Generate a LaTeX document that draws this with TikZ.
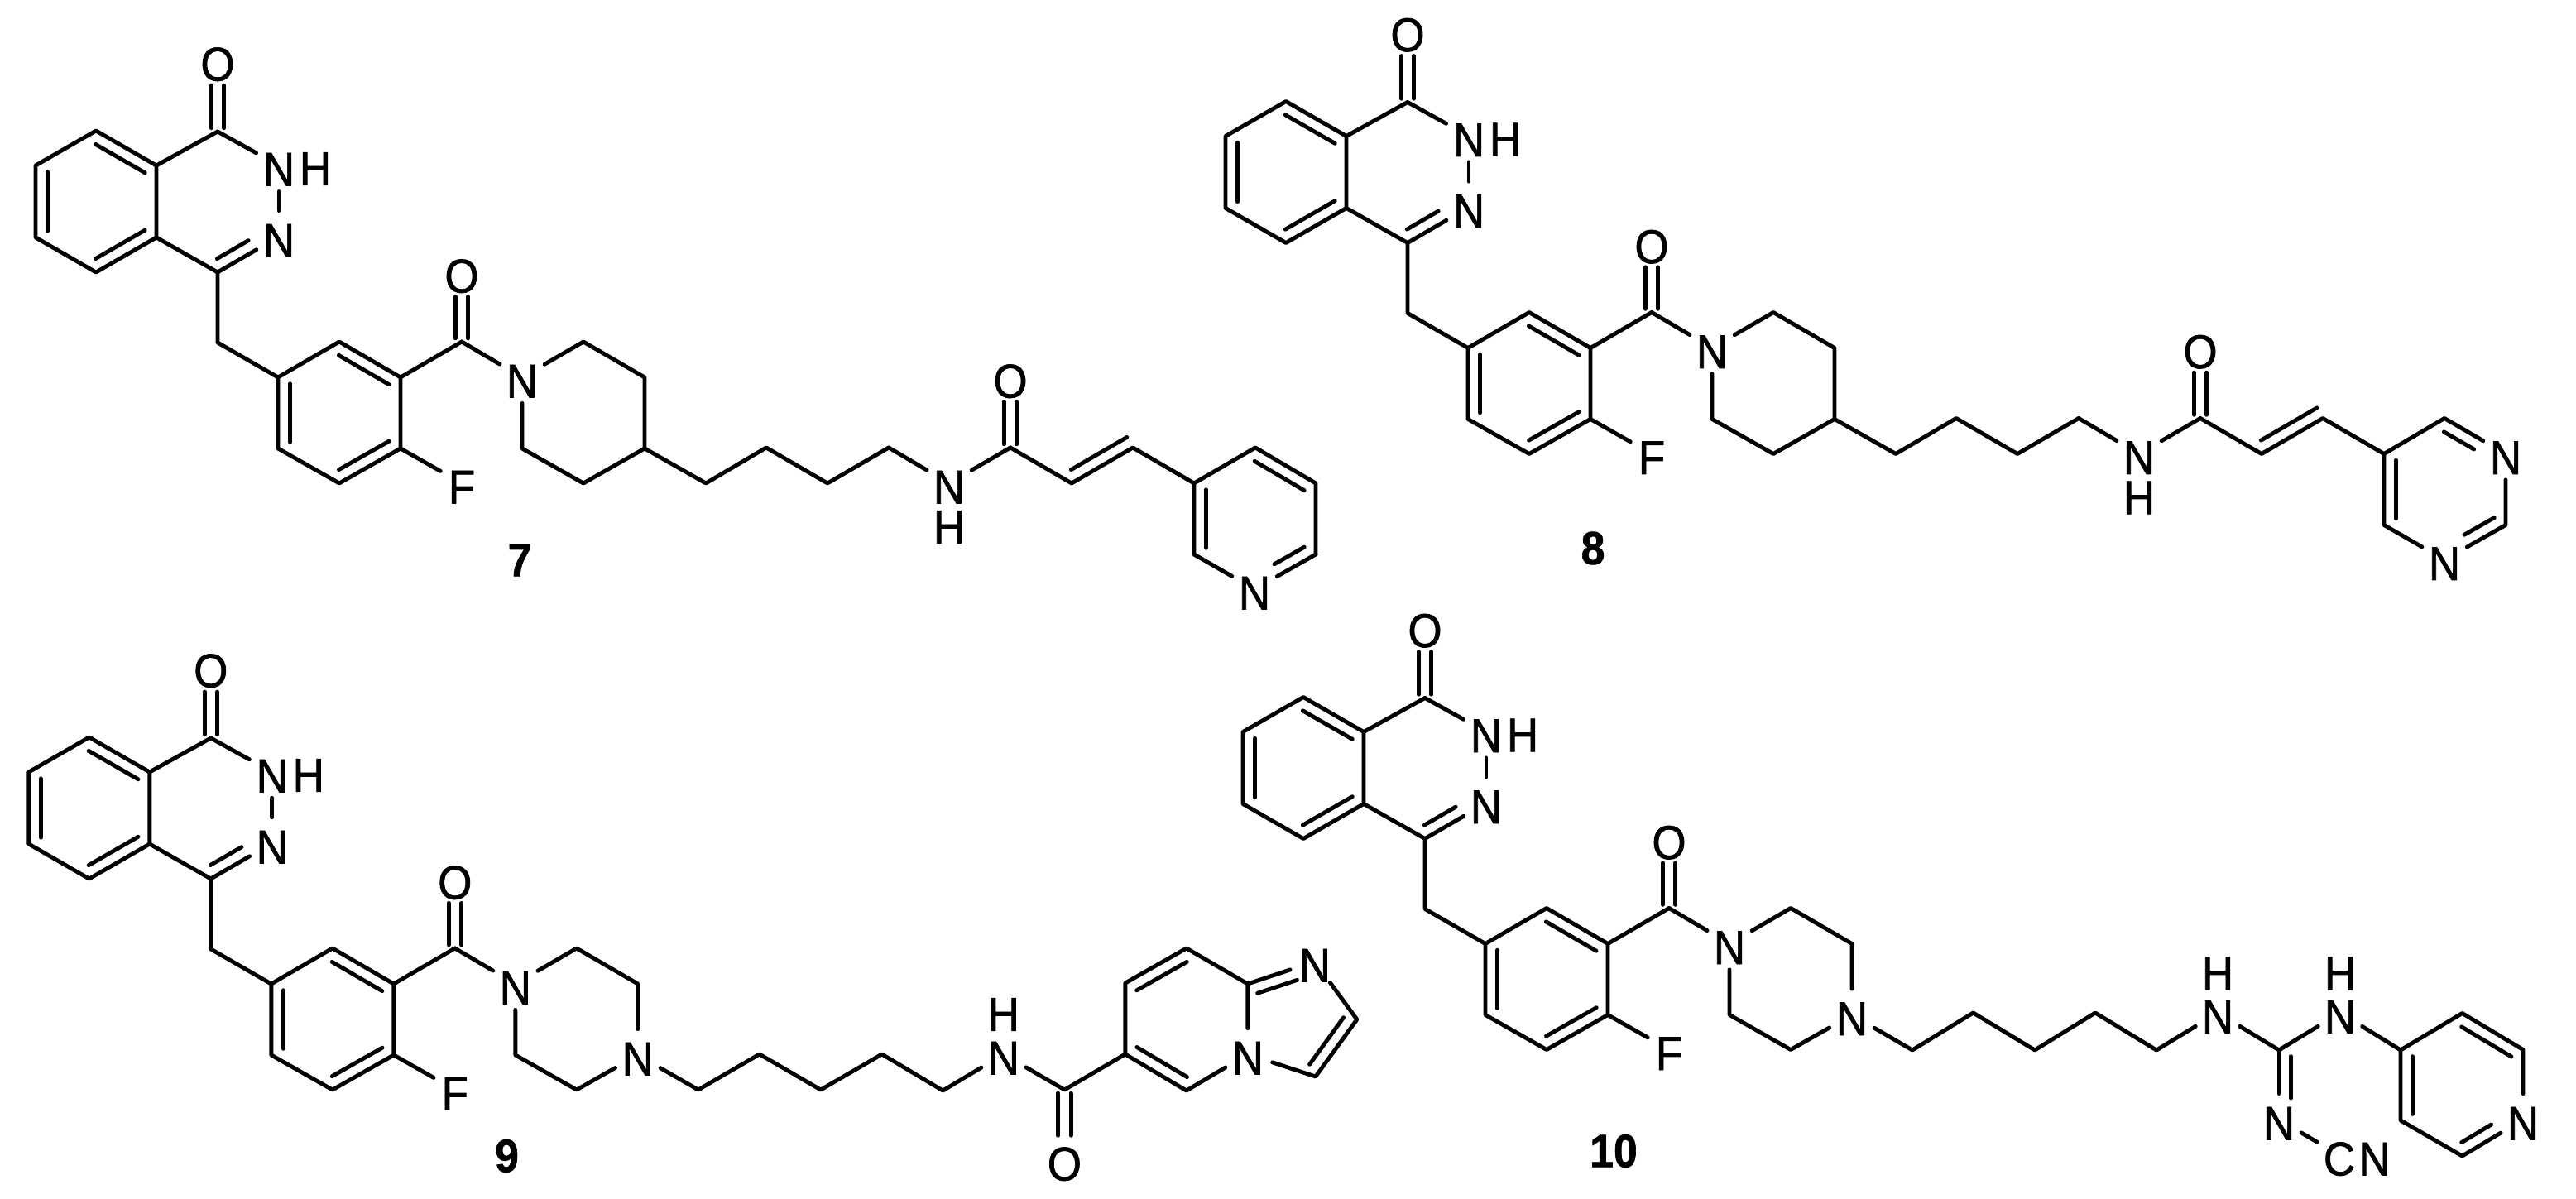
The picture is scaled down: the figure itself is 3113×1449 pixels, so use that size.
\documentclass[tikz,border=0pt]{standalone}
\usepackage{fontspec}
\setmainfont[FakeStretch=0.92,FakeBold=1.2]{Liberation Sans}
\usetikzlibrary{calc}

\tikzset{
  bond/.style = {line width=.098cm, line cap=round, line join=round},
  atomlabel/.style = {circle, inner sep=0pt, text height=.98cm, text depth=0pt, font=\fontsize{32.7}{36}\selectfont},
  hlabel/.style = {inner sep=0pt, font=\fontsize{32.7}{36}\selectfont},
  cpdlabel/.style = {inner sep=0pt, font=\fontsize{32}{36}\selectfont\bfseries}
}

\newcommand{\inbond}[3][.09]{\draw[bond] ($(#2)!.09!(#3)!.29cm!90:(#3)$) -- ($(#3)!#1!(#2)!.29cm!-90:(#2)$);}
\newcommand{\inbondr}[3][.09]{\draw[bond] ($(#2)!.09!(#3)!.29cm!-90:(#3)$) -- ($(#3)!#1!(#2)!.29cm!90:(#2)$);}
\newcommand{\cobond}[2]{%
\draw[bond] ($(#1)!.05!(#2)!.154cm!90:(#2)$) -- ($(#2)!.35!(#1)!.154cm!-90:(#1)$);
\draw[bond] ($(#1)!.05!(#2)!.154cm!-90:(#2)$) -- ($(#2)!.35!(#1)!.154cm!90:(#1)$);}

\newcommand{\drawcore}{%
\coordinate (b1) at (116,158);
\coordinate (b2) at (43,200);
\coordinate (b3) at (43,287);
\coordinate (b4) at (116,329);
\coordinate (b5) at (189,287);
\coordinate (b6) at (189,200);
\coordinate (c1) at (263,159);
\coordinate (c4) at (263,329);
\coordinate (ch) at (263,414);
\coordinate (r1) at (336,456);
\coordinate (r2) at (410,413);
\coordinate (r3) at (484,456);
\coordinate (r4) at (484,542);
\coordinate (r5) at (410,584);
\coordinate (r6) at (336,542);
\coordinate (co) at (558,413);
\node[atomlabel] (o1) at (263,73) {O};
\node[atomlabel] (n2) at (337,200) {N};
\node[hlabel] (h2) at (381,204) {H};
\node[atomlabel] (n3) at (337,286) {N};
\node[atomlabel] (o2) at (558,329) {O};
\node[atomlabel] (nr) at (631,456) {N};
\node[atomlabel] (f1) at (558,584) {F};
\draw[bond] (c1)--(b6)--(b1)--(b2)--(b3)--(b4)--(b5)--(b6);
\draw[bond] (b5)--(c4)--(ch)--(r1)--(r2)--(r3)--(r4)--(r5)--(r6)--(r1);
\draw[bond] (r3)--(co);
\draw[bond] (c1)--(n2);
\draw[bond] (n2)--(n3);
\draw[bond] (c4)--(n3);
\draw[bond] (co)--(nr);
\draw[bond] (r4)--(f1);
\cobond{c1}{o1}
\cobond{co}{o2}
\inbond{b6}{b1}
\inbond{b2}{b3}
\inbond{b4}{b5}
\inbond[.4]{c4}{n3}
\inbond{r3}{r2}
\inbond{r1}{r6}
\inbond{r5}{r4}
}

\newcommand{\drawpiperidine}{%
\coordinate (p1) at (705,413);
\coordinate (p2) at (779,456);
\coordinate (p3) at (779,542);
\coordinate (p4) at (705,584);
\coordinate (p5) at (631,542);
\draw[bond] (nr)--(p1)--(p2)--(p3)--(p4)--(p5)--(nr);
}

\newcommand{\drawpiperazine}{%
\coordinate (p1) at (705,413);
\coordinate (p2) at (779,456);
\node[atomlabel] (p3) at (779,542) {N};
\coordinate (p4) at (705,584);
\coordinate (p5) at (631,542);
\draw[bond] (nr)--(p1)--(p2)--(p3);
\draw[bond] (p3)--(p4)--(p5)--(nr);
}

\newcommand{\drawacryl}{%
\coordinate (t1) at (853,584);
\coordinate (t2) at (926,541);
\coordinate (t3) at (1000,584);
\coordinate (t4) at (1074,541);
\node[atomlabel] (n5) at (1147,584) {N};
\node[hlabel] (h5) at (1147,637) {H};
\coordinate (t5) at (1221,541);
\node[atomlabel] (o3) at (1221,456) {O};
\coordinate (t6) at (1295,584);
\coordinate (t7) at (1369,541);
\coordinate (t8) at (1443,584);
\draw[bond] (p3)--(t1)--(t2)--(t3)--(t4);
\draw[bond] (t4)--(n5);
\draw[bond] (n5)--(t5);
\draw[bond] (t5)--(t6)--(t7)--(t8);
\cobond{t5}{o3}
\inbond[0]{t6}{t7}
}

\begin{document}
\begin{tikzpicture}[x=.02cm, y=-.02cm]
\useasboundingbox (0,0) rectangle (3113,1449);

\begin{scope}[name prefix=m7-]
\drawcore
\drawpiperidine
\drawacryl
\coordinate (q2) at (1517,541);
\coordinate (q3) at (1590,584);
\coordinate (q4) at (1590,670);
\node[atomlabel] (n6) at (1516,712) {N};
\coordinate (q6) at (1443,670);
\draw[bond] (t8)--(q2)--(q3)--(q4);
\draw[bond] (q4)--(n6);
\draw[bond] (n6)--(q6)--(t8);
\inbond{t8}{q6}
\inbond{q3}{q2}
\inbondr[.42]{q4}{n6}
\end{scope}

\begin{scope}[shift={(1438,-35.5)}, name prefix=m8-]
\drawcore
\drawpiperidine
\drawacryl
\coordinate (q2) at (1516,541);
\node[atomlabel] (n6) at (1590,584) {N};
\coordinate (q4) at (1590,670);
\node[atomlabel] (n7) at (1516,712) {N};
\coordinate (q6) at (1443,670);
\draw[bond] (t8)--(q2)--(n6);
\draw[bond] (n6)--(q4)--(n7);
\draw[bond] (n7)--(q6)--(t8);
\inbond{t8}{q6}
\inbondr[.42]{q2}{n6}
\inbondr[.42]{q4}{n7}
\end{scope}

\begin{scope}[shift={(-8.2,733)}, name prefix=m9-]
\drawcore
\drawpiperazine
\coordinate (t1) at (852,584);
\coordinate (t2) at (926,541);
\coordinate (t3) at (1000,584);
\coordinate (t4) at (1074,541);
\coordinate (t5) at (1147.6,585);
\node[atomlabel] (n5) at (1221,541) {N};
\node[hlabel] (h5) at (1221,493) {H};
\coordinate (t6) at (1294.6,584);
\node[atomlabel] (o3) at (1294.6,669) {O};
\coordinate (s1) at (1368,541);
\coordinate (s2) at (1368,455);
\coordinate (s3) at (1442,413);
\coordinate (s4) at (1516,456);
\node[atomlabel] (n6) at (1516,541) {N};
\coordinate (s6) at (1442,585);
\node[atomlabel] (n7) at (1597,429) {N};
\coordinate (s7) at (1648,499);
\coordinate (s8) at (1598,568);
\draw[bond] (p3)--(t1)--(t2)--(t3)--(t4)--(t5)--(n5);
\draw[bond] (n5)--(t6)--(s1)--(s2)--(s3)--(s4)--(n6);
\draw[bond] (n6)--(s6)--(s1);
\draw[bond] (s4)--(n7);
\draw[bond] (n7)--(s7)--(s8)--(n6);
\cobond{t6}{o3}
\inbond{s3}{s2}
\inbond{s1}{s6}
\inbondr[.32]{s4}{n7}
\inbond{s8}{s7}
\end{scope}

\begin{scope}[shift={(1459,684.5)}, name prefix=m10-]
\drawcore
\drawpiperazine
\coordinate (t1) at (852,584.5);
\coordinate (t2) at (925.5,539.5);
\coordinate (t3) at (1000,584.5);
\coordinate (t4) at (1073,539.5);
\coordinate (t5) at (1147,584.5);
\node[atomlabel] (n5) at (1221,539.5) {N};
\node[hlabel] (h5) at (1221,492) {H};
\coordinate (g1) at (1295,584.5);
\node[atomlabel] (n6) at (1369,539.5) {N};
\node[hlabel] (h6) at (1369,492) {H};
\node[atomlabel] (n7) at (1295,668.5) {N};
\node[atomlabel] (c9) at (1368,711.5) {C};
\node[atomlabel] (n9) at (1410.5,711.5) {N};
\coordinate (u1) at (1442,584.5);
\coordinate (u2) at (1516.5,540);
\coordinate (u3) at (1590,584);
\node[atomlabel] (n8) at (1590,668.5) {N};
\coordinate (u5) at (1516.5,712.5);
\coordinate (u6) at (1442,669.5);
\draw[bond] (p3)--(t1)--(t2)--(t3)--(t4)--(t5)--(n5);
\draw[bond] (n5)--(g1)--(n6);
\draw[bond] (n6)--(u1)--(u2)--(u3)--(n8);
\draw[bond] (n8)--(u5)--(u6)--(u1);
\draw[bond] (g1)--(n7);
\draw[bond] (n7)--(c9);
\inbond[.31]{g1}{n7}
\inbond{u1}{u6}
\inbond{u3}{u2}
\inbond[.42]{u5}{n8}
\end{scope}

\node[cpdlabel] (lab7) at (628,677) {7};
\node[cpdlabel] (lab8) at (1925,662.5) {8};
\node[cpdlabel] (lab9) at (612.5,1397) {9};
\node[cpdlabel] (lab10) at (1950,1391) {10};
\end{tikzpicture}
\end{document}
